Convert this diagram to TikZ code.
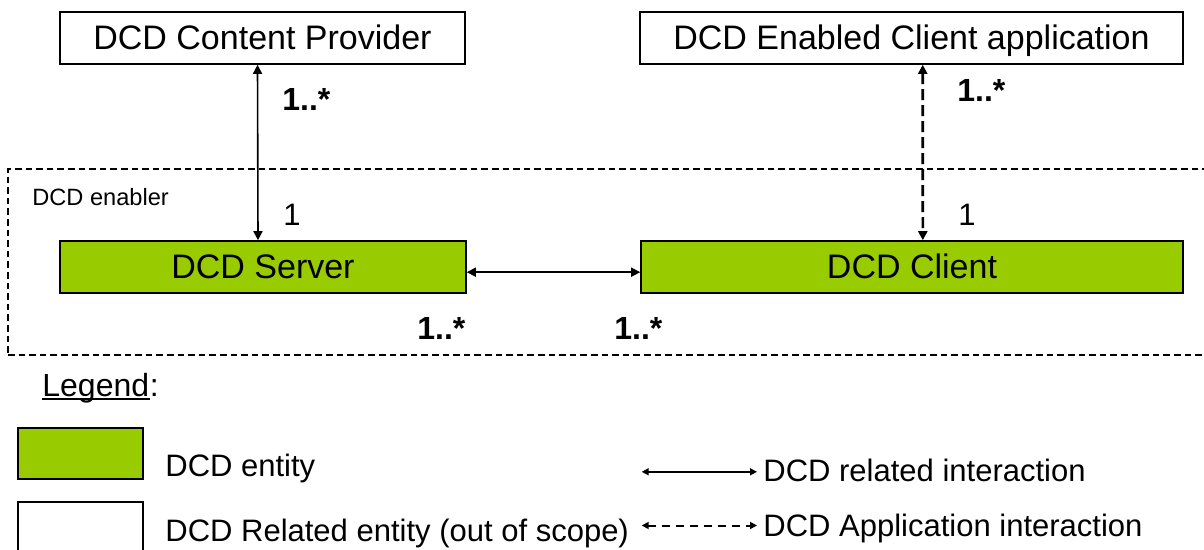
\documentclass[tikz,border=0pt]{standalone}
\usepackage{fontspec}
\setmainfont{Liberation Sans}
\usetikzlibrary{arrows.meta}
\definecolor{dcdgreen}{HTML}{99CC00}
\tikzstyle{entite} = [rectangle, draw=black, line width=0.8pt, fill=dcdgreen, inner sep=0pt, minimum height=26pt, text height=12.2pt, text depth=0.8pt, font=\fontsize{17}{20}\selectfont]
\tikzstyle{horsscope} = [entite, fill=white]
\tikzstyle{mult} = [anchor=base west, inner sep=0pt, font=\bfseries\fontsize{16}{19}\selectfont]
\tikzstyle{un} = [anchor=base west, inner sep=0pt, font=\fontsize{15.5}{18}\selectfont]
\tikzstyle{legende} = [anchor=base west, inner sep=0pt, font=\fontsize{15.5}{18}\selectfont]
\tikzstyle{lien} = [line width=0.8pt, {Triangle[length=4.5pt,width=4.5pt]}-{Triangle[length=4.5pt,width=4.5pt]}]
\tikzstyle{lienapp} = [lien, line width=1.3pt, dash pattern=on 5.5pt off 2.5pt]
\tikzstyle{lienleg} = [line width=0.7pt, {Triangle[length=3.5pt,width=3.5pt]}-{Triangle[length=3.5pt,width=3.5pt]}]
\tikzstyle{lienlegapp} = [lienleg, line width=1pt, dash pattern=on 4pt off 3pt]

\begin{document}
\begin{tikzpicture}[x=0.5pt, y=-0.5pt]
        \clip (0,0) rectangle (1204,550);

        % enabler zone
        \node (enabler) [rectangle, draw, line width=0.7pt, dash pattern=on 3.3pt off 2pt, minimum width=603.5pt, minimum height=93pt, inner sep=0pt] at (611.5,262) {};
        \node (enablerlbl) [anchor=base west, inner sep=0pt, font=\fontsize{11.8}{14}\selectfont] at (32,205.7) {DCD enabler};

        \node (prov) [horsscope, minimum width=202.5pt] at (262.5,38) {DCD Content Provider};
        \node (app) [horsscope, minimum width=271.5pt] at (911.5,38) {DCD Enabled Client application};
        \node (server) [entite, minimum width=203pt] at (263,267) {DCD Server};
        \node (client) [entite, minimum width=271pt] at (912,267) {DCD Client};

        \draw[lien] ([xshift=-2.5pt]prov.south) -- ([xshift=-2.5pt]server.north);
        \draw[lienapp] ([xshift=5.6pt]app.south) -- ([xshift=5.4pt]client.north);
        \draw[lien] ([yshift=-2.6pt]server.east) -- ([yshift=-2.6pt]client.west);

        \node (m1) [mult] at (282,110.7) {1..*};
        \node (m2) [mult] at (957,101.7) {1..*};
        \node (m3) [mult] at (417,340) {1..*};
        \node (m4) [mult] at (614,340) {1..*};
        \node (u1) [un] at (283,225.7) {1};
        \node (u2) [un] at (958,225.7) {1};

        % legend
        \node (legend) [legende, font=\fontsize{16}{19}\selectfont] at (42,396.7) {Legend};
        \node (colon) [legende, font=\fontsize{16}{19}\selectfont] at (legend.base east) {:};
        \draw[line width=1pt] ([yshift=-1.2pt]legend.base west) -- ([yshift=-1.2pt]legend.base east);

        \node (legent) [entite, minimum width=62.5pt, minimum height=25.5pt] at (80.5,453.5) {};
        \node (legrel) [horsscope, minimum width=62.5pt, minimum height=29pt] at (80.5,531) {};
        \node (legenttxt) [legende] at (165,476) {DCD entity};
        \node (legreltxt) [legende] at (165,541) {DCD Related entity (out of scope)};

        \node (reltxt) [legende] at (763,481) {DCD related interaction};
        \node (apptxt) [legende] at (763,536) {DCD Application interaction};
        \coordinate (s1) at (641.7,471.8);
        \coordinate (s2) at (641.7,525.5);
        \draw[lienleg, shorten >=3pt] (s1) -- (s1 -| reltxt.west);
        \draw[lienlegapp, shorten >=3pt] (s2) -- (s2 -| apptxt.west);
    \end{tikzpicture}
\end{document}
